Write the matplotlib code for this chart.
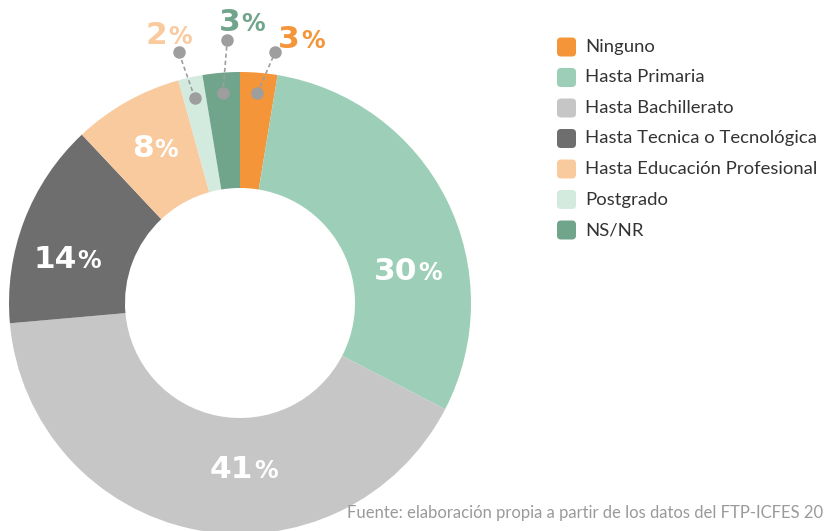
import numpy as np
import matplotlib
matplotlib.use("Agg")
import matplotlib.pyplot as plt
from matplotlib.patches import FancyBboxPatch

# ---- data ----
categories = ["Ninguno", "Hasta Primaria", "Hasta Bachillerato",
              "Hasta Tecnica o Tecnológica", "Hasta Educación Profesional",
              "Postgrado", "NS/NR"]
values = [2.6, 30.0, 41.0, 14.4, 7.7, 1.7, 2.6]
colors = ["#F39538", "#9DCFB8", "#C6C6C6", "#6E6E6E", "#FACA9F", "#D3EADF", "#70A48B"]
source = "Fuente: elaboración propia a partir de los datos del FTP-ICFES 20"

# ---- layout (label placement relative to wedge mid-angle) ----
label_layout = [(-8.3, 1.185, "#F39538"),   # Ninguno (outside)
                (-15.1, 0.741, "white"),
                (12.4, 0.709, "white"),
                (5.9, 0.774, "white"),
                (-1.0, 0.775, "white"),
                (2.3, 1.209, "#FACA9F"),    # Postgrado (outside)
                (-5.1, 1.228, "#70A48B")]   # NS/NR (outside)
leader = {0: (-3.3, 1.097), 5: (1.3, 1.118), 6: (-1.9, 1.14)}

W, H = 826, 531
fig = plt.figure(figsize=(W / 100, H / 100), dpi=100)
ax = fig.add_axes([0, 0, 1, 1])

cx, cy, R = 240, 228, 231
inner = 115
wedges, _ = ax.pie(values, colors=colors, startangle=90, counterclock=False,
                   center=(cx, cy), radius=R, frame=True,
                   wedgeprops=dict(width=R - inner, linewidth=0))
ax.set_xlim(0, W)
ax.set_ylim(0, H)
ax.axis("off")

def polar(a, r):
    return cx + r * R * np.cos(np.radians(a)), cy + r * R * np.sin(np.radians(a))

pairs = []
total = sum(values)
for i, w in enumerate(wedges):
    mid = (w.theta1 + w.theta2) / 2
    off, rr, col = label_layout[i]
    x, y = polar(mid + off, rr)
    num = str(int(round(values[i] / total * 100)))
    yb = y - 11.5
    t1 = ax.text(x, yb, num, ha="right", va="baseline", color=col,
                 fontsize=22.5, fontfamily="DejaVu Sans", fontweight="bold")
    t2 = ax.text(x, yb, "%", ha="left", va="baseline", color=col,
                 fontsize=17, fontfamily="DejaVu Sans", fontweight="bold")
    pairs.append((t1, t2, x, yb))
    if i in leader:
        x0, y0 = polar(mid, 0.91)
        lo, lr = leader[i]
        x1, y1 = polar(mid + lo, lr)
        ax.plot([x0, x1], [y0, y1], color="#9E9E9E", lw=1.2, ls=(0, (2.5, 1.8)),
                zorder=5)
        ax.plot([x0, x1], [y0, y1], ls="none", marker="o", ms=8,
                color="#9E9E9E", zorder=6)

fig.canvas.draw()
for t1, t2, x, yb in pairs:
    w1 = t1.get_window_extent().width
    w2 = t2.get_window_extent().width
    gap = 1
    shift = (w1 - w2) / 2
    t1.set_position((x + shift - gap / 2, yb))
    t2.set_position((x + shift + gap / 2, yb))

# legend
for i, (c, lab) in enumerate(zip(colors, categories)):
    yc = H - (47 + 30.5 * i)
    ax.add_patch(FancyBboxPatch((557 + 2, yc - 9.5 + 2), 15, 15,
                                boxstyle="round,pad=2,rounding_size=4",
                                fc=c, ec="none"))
    ax.text(585, yc, lab, ha="left", va="center", fontsize=13.3,
            fontfamily="Lato", fontweight="normal", color="#333333")

ax.text(823, H - 518, source, ha="right", va="baseline", fontsize=12.0,
        fontfamily="Lato", fontweight="normal", color="#9A9A9A")

fig.savefig("out.png", dpi=100)
